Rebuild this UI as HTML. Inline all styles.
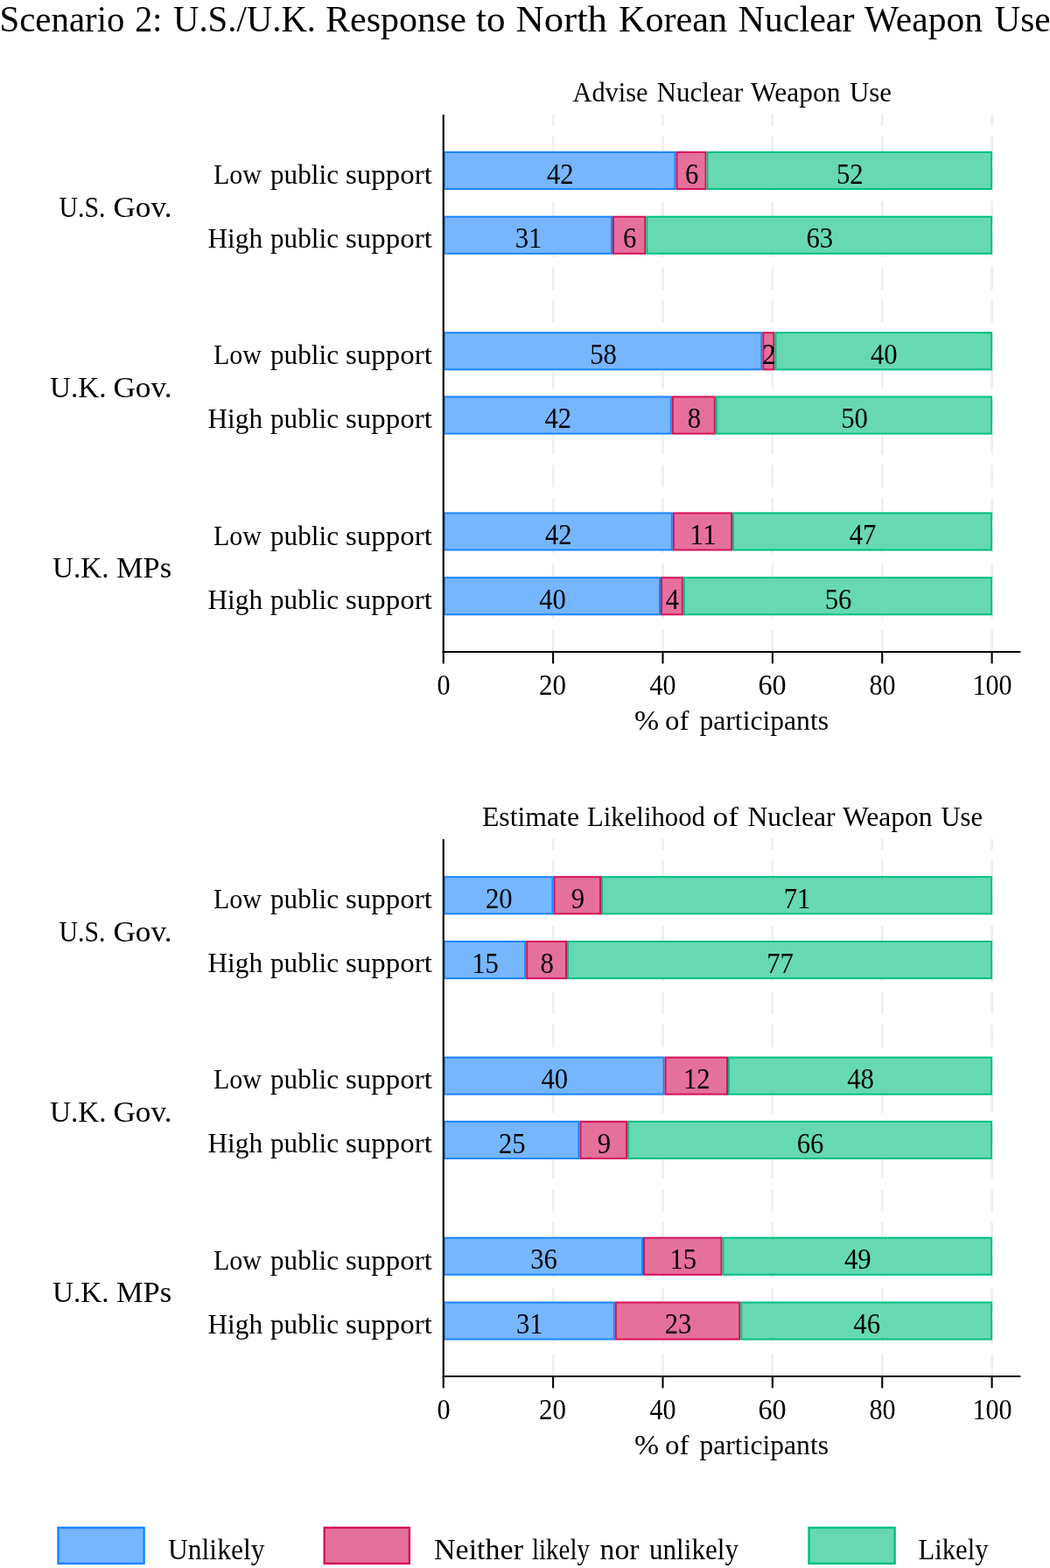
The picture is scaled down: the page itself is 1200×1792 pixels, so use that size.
<!DOCTYPE html>
<html lang="en">
<head>
<meta charset="utf-8">
<title>Scenario 2: U.S./U.K. Response to North Korean Nuclear Weapon Use</title>
<style>
html,body{margin:0;padding:0;background:#fff;}
body{width:1200px;height:1792px;overflow:hidden;}
svg{display:block;}
text{font-family:"Liberation Serif", serif;fill:#000;}
.grid{stroke:#efefef;stroke-width:2.8;stroke-dasharray:25.6 12.03;}
.ax{stroke:#000;stroke-width:2.1;}
.b{fill:#76b6ff;stroke:#1a85ff;stroke-width:2;}
.p{fill:#e5709b;stroke:#d41159;stroke-width:2;}
.g{fill:#66d9b2;stroke:#00bf7f;stroke-width:2;}
.lg{stroke-width:2.4;}
</style>
</head>
<body>
<svg width="1200" height="1792" viewBox="0 0 1200 1792">
<rect x="0" y="0" width="1200" height="1792" fill="#ffffff"/>
<g id="chart-advise">
<line class="grid" x1="632.12" y1="745.0" x2="632.12" y2="130.5"/>
<line class="grid" x1="757.49" y1="745.0" x2="757.49" y2="130.5"/>
<line class="grid" x1="882.86" y1="745.0" x2="882.86" y2="130.5"/>
<line class="grid" x1="1008.23" y1="745.0" x2="1008.23" y2="130.5"/>
<line class="grid" x1="1133.60" y1="745.0" x2="1133.60" y2="130.5"/>
<rect class="b" x="507.75" y="173.90" width="263.75" height="42.10"/>
<rect class="p" x="773.50" y="173.90" width="33.00" height="42.10"/>
<rect class="g" x="808.50" y="173.90" width="324.60" height="42.10"/>
<rect class="b" x="507.75" y="247.70" width="191.25" height="42.10"/>
<rect class="p" x="701.00" y="247.70" width="36.30" height="42.10"/>
<rect class="g" x="739.30" y="247.70" width="393.80" height="42.10"/>
<rect class="b" x="507.75" y="380.20" width="362.55" height="42.10"/>
<rect class="p" x="872.30" y="380.20" width="12.00" height="42.10"/>
<rect class="g" x="886.30" y="380.20" width="246.80" height="42.10"/>
<rect class="b" x="507.75" y="453.50" width="259.05" height="42.10"/>
<rect class="p" x="768.80" y="453.50" width="48.00" height="42.10"/>
<rect class="g" x="818.80" y="453.50" width="314.30" height="42.10"/>
<rect class="b" x="507.75" y="586.40" width="260.05" height="42.10"/>
<rect class="p" x="769.80" y="586.40" width="66.20" height="42.10"/>
<rect class="g" x="838.00" y="586.40" width="295.10" height="42.10"/>
<rect class="b" x="507.75" y="660.20" width="246.25" height="42.10"/>
<rect class="p" x="756.00" y="660.20" width="23.80" height="42.10"/>
<rect class="g" x="781.80" y="660.20" width="351.30" height="42.10"/>
<line x1="506.75" y1="131.0" x2="506.75" y2="746.0" class="ax"/>
<line x1="505.70" y1="745.0" x2="1166.4" y2="745.0" class="ax"/>
<line x1="506.75" y1="745.0" x2="506.75" y2="758.4" class="ax"/>
<line x1="632.12" y1="745.0" x2="632.12" y2="758.4" class="ax"/>
<line x1="757.49" y1="745.0" x2="757.49" y2="758.4" class="ax"/>
<line x1="882.86" y1="745.0" x2="882.86" y2="758.4" class="ax"/>
<line x1="1008.23" y1="745.0" x2="1008.23" y2="758.4" class="ax"/>
<line x1="1133.60" y1="745.0" x2="1133.60" y2="758.4" class="ax"/>
</g>
<g id="chart-estimate">
<line class="grid" x1="632.12" y1="1573.0" x2="632.12" y2="958.5"/>
<line class="grid" x1="757.49" y1="1573.0" x2="757.49" y2="958.5"/>
<line class="grid" x1="882.86" y1="1573.0" x2="882.86" y2="958.5"/>
<line class="grid" x1="1008.23" y1="1573.0" x2="1008.23" y2="958.5"/>
<line class="grid" x1="1133.60" y1="1573.0" x2="1133.60" y2="958.5"/>
<rect class="b" x="507.75" y="1002.20" width="123.75" height="42.10"/>
<rect class="p" x="633.50" y="1002.20" width="52.50" height="42.10"/>
<rect class="g" x="688.00" y="1002.20" width="445.10" height="42.10"/>
<rect class="b" x="507.75" y="1076.00" width="92.45" height="42.10"/>
<rect class="p" x="602.20" y="1076.00" width="44.80" height="42.10"/>
<rect class="g" x="649.00" y="1076.00" width="484.10" height="42.10"/>
<rect class="b" x="507.75" y="1208.50" width="250.75" height="42.10"/>
<rect class="p" x="760.50" y="1208.50" width="70.50" height="42.10"/>
<rect class="g" x="833.00" y="1208.50" width="300.10" height="42.10"/>
<rect class="b" x="507.75" y="1281.80" width="153.75" height="42.10"/>
<rect class="p" x="663.50" y="1281.80" width="52.50" height="42.10"/>
<rect class="g" x="718.00" y="1281.80" width="415.10" height="42.10"/>
<rect class="b" x="507.75" y="1414.70" width="226.25" height="42.10"/>
<rect class="p" x="736.00" y="1414.70" width="88.50" height="42.10"/>
<rect class="g" x="826.50" y="1414.70" width="306.60" height="42.10"/>
<rect class="b" x="507.75" y="1488.50" width="194.05" height="42.10"/>
<rect class="p" x="703.80" y="1488.50" width="141.40" height="42.10"/>
<rect class="g" x="847.20" y="1488.50" width="285.90" height="42.10"/>
<line x1="506.75" y1="959.0" x2="506.75" y2="1574.0" class="ax"/>
<line x1="505.70" y1="1573.0" x2="1166.4" y2="1573.0" class="ax"/>
<line x1="506.75" y1="1573.0" x2="506.75" y2="1586.4" class="ax"/>
<line x1="632.12" y1="1573.0" x2="632.12" y2="1586.4" class="ax"/>
<line x1="757.49" y1="1573.0" x2="757.49" y2="1586.4" class="ax"/>
<line x1="882.86" y1="1573.0" x2="882.86" y2="1586.4" class="ax"/>
<line x1="1008.23" y1="1573.0" x2="1008.23" y2="1586.4" class="ax"/>
<line x1="1133.60" y1="1573.0" x2="1133.60" y2="1586.4" class="ax"/>
</g>
<g id="legend">
<rect x="66.50" y="1745.9" width="98.10" height="41" class="b lg"/>
<rect x="370.70" y="1745.9" width="97.20" height="41" class="p lg"/>
<rect x="924.50" y="1745.9" width="98.10" height="41" class="g lg"/>
</g>
<g id="labels">
<text y="35.6" font-size="42"><tspan x="-0.56" textLength="143.09" lengthAdjust="spacingAndGlyphs">Scenario</tspan> <tspan x="154.32" textLength="31.10" lengthAdjust="spacingAndGlyphs">2:</tspan> <tspan x="198.00" textLength="163.04" lengthAdjust="spacingAndGlyphs">U.S./U.K.</tspan> <tspan x="371.99" textLength="161.03" lengthAdjust="spacingAndGlyphs">Response</tspan> <tspan x="543.98" textLength="33.56" lengthAdjust="spacingAndGlyphs">to</tspan> <tspan x="589.50" textLength="104.51" lengthAdjust="spacingAndGlyphs">North</tspan> <tspan x="706.99" textLength="124.01" lengthAdjust="spacingAndGlyphs">Korean</tspan> <tspan x="843.50" textLength="133.00" lengthAdjust="spacingAndGlyphs">Nuclear</tspan> <tspan x="988.00" textLength="135.00" lengthAdjust="spacingAndGlyphs">Weapon</tspan> <tspan x="1136.49" textLength="64.03" lengthAdjust="spacingAndGlyphs">Use</tspan></text>
<text y="116.2" font-size="31"><tspan x="654.50" textLength="86.00" lengthAdjust="spacingAndGlyphs">Advise</tspan> <tspan x="750.50" textLength="98.50" lengthAdjust="spacingAndGlyphs">Nuclear</tspan> <tspan x="858.00" textLength="102.50" lengthAdjust="spacingAndGlyphs">Weapon</tspan> <tspan x="970.97" textLength="48.07" lengthAdjust="spacingAndGlyphs">Use</tspan></text>
<text y="944.4" font-size="31"><tspan x="550.99" textLength="111.01" lengthAdjust="spacingAndGlyphs">Estimate</tspan> <tspan x="671.00" textLength="135.00" lengthAdjust="spacingAndGlyphs">Likelihood</tspan> <tspan x="814.50" textLength="29.52" lengthAdjust="spacingAndGlyphs">of</tspan> <tspan x="854.50" textLength="100.02" lengthAdjust="spacingAndGlyphs">Nuclear</tspan> <tspan x="963.00" textLength="102.50" lengthAdjust="spacingAndGlyphs">Weapon</tspan> <tspan x="1075.50" textLength="47.51" lengthAdjust="spacingAndGlyphs">Use</tspan></text>
<text y="834.3" font-size="31.5"><tspan x="724.96" textLength="28.09" lengthAdjust="spacingAndGlyphs">%</tspan> <tspan x="760.00" textLength="27.51" lengthAdjust="spacingAndGlyphs">of</tspan> <tspan x="799.50" textLength="147.50" lengthAdjust="spacingAndGlyphs">participants</tspan></text>
<text y="1662.3" font-size="31.5"><tspan x="724.96" textLength="28.09" lengthAdjust="spacingAndGlyphs">%</tspan> <tspan x="760.00" textLength="27.51" lengthAdjust="spacingAndGlyphs">of</tspan> <tspan x="799.50" textLength="147.50" lengthAdjust="spacingAndGlyphs">participants</tspan></text>
<text y="1781.5" font-size="33.5"><tspan x="192.00" textLength="110.51" lengthAdjust="spacingAndGlyphs">Unlikely</tspan></text>
<text y="1781.5" font-size="33.5"><tspan x="496.00" textLength="102.00" lengthAdjust="spacingAndGlyphs">Neither</tspan> <tspan x="608.00" textLength="66.00" lengthAdjust="spacingAndGlyphs">likely</tspan> <tspan x="685.50" textLength="45.00" lengthAdjust="spacingAndGlyphs">nor</tspan> <tspan x="741.99" textLength="102.02" lengthAdjust="spacingAndGlyphs">unlikely</tspan></text>
<text y="1781.5" font-size="33.5"><tspan x="1049.51" textLength="80.00" lengthAdjust="spacingAndGlyphs">Likely</tspan></text>
<text y="247.5" font-size="33"><tspan x="67.49" textLength="53.04" lengthAdjust="spacingAndGlyphs">U.S.</tspan> <tspan x="129.46" textLength="67.12" lengthAdjust="spacingAndGlyphs">Gov.</tspan></text>
<text y="453.7" font-size="33"><tspan x="56.99" textLength="64.57" lengthAdjust="spacingAndGlyphs">U.K.</tspan> <tspan x="129.46" textLength="67.12" lengthAdjust="spacingAndGlyphs">Gov.</tspan></text>
<text y="660.0" font-size="33"><tspan x="60.00" textLength="64.57" lengthAdjust="spacingAndGlyphs">U.K.</tspan> <tspan x="133.00" textLength="63.02" lengthAdjust="spacingAndGlyphs">MPs</tspan></text>
<text y="1075.5" font-size="33"><tspan x="67.49" textLength="53.04" lengthAdjust="spacingAndGlyphs">U.S.</tspan> <tspan x="129.46" textLength="67.12" lengthAdjust="spacingAndGlyphs">Gov.</tspan></text>
<text y="1281.7" font-size="33"><tspan x="56.99" textLength="64.57" lengthAdjust="spacingAndGlyphs">U.K.</tspan> <tspan x="129.46" textLength="67.12" lengthAdjust="spacingAndGlyphs">Gov.</tspan></text>
<text y="1488.0" font-size="33"><tspan x="60.00" textLength="64.57" lengthAdjust="spacingAndGlyphs">U.K.</tspan> <tspan x="133.00" textLength="63.02" lengthAdjust="spacingAndGlyphs">MPs</tspan></text>
<text y="210.1" font-size="31.5"><tspan x="244.00" textLength="55.02" lengthAdjust="spacingAndGlyphs">Low</tspan> <tspan x="309.00" textLength="78.01" lengthAdjust="spacingAndGlyphs">public</tspan> <tspan x="395.00" textLength="99.00" lengthAdjust="spacingAndGlyphs">support</tspan></text>
<text y="283.3" font-size="31.5"><tspan x="237.49" textLength="62.53" lengthAdjust="spacingAndGlyphs">High</tspan> <tspan x="309.00" textLength="78.01" lengthAdjust="spacingAndGlyphs">public</tspan> <tspan x="395.00" textLength="99.00" lengthAdjust="spacingAndGlyphs">support</tspan></text>
<text y="416.4" font-size="31.5"><tspan x="244.00" textLength="55.02" lengthAdjust="spacingAndGlyphs">Low</tspan> <tspan x="309.00" textLength="78.01" lengthAdjust="spacingAndGlyphs">public</tspan> <tspan x="395.00" textLength="99.00" lengthAdjust="spacingAndGlyphs">support</tspan></text>
<text y="489.1" font-size="31.5"><tspan x="237.49" textLength="62.53" lengthAdjust="spacingAndGlyphs">High</tspan> <tspan x="309.00" textLength="78.01" lengthAdjust="spacingAndGlyphs">public</tspan> <tspan x="395.00" textLength="99.00" lengthAdjust="spacingAndGlyphs">support</tspan></text>
<text y="622.6" font-size="31.5"><tspan x="244.00" textLength="55.02" lengthAdjust="spacingAndGlyphs">Low</tspan> <tspan x="309.00" textLength="78.01" lengthAdjust="spacingAndGlyphs">public</tspan> <tspan x="395.00" textLength="99.00" lengthAdjust="spacingAndGlyphs">support</tspan></text>
<text y="695.8" font-size="31.5"><tspan x="237.49" textLength="62.53" lengthAdjust="spacingAndGlyphs">High</tspan> <tspan x="309.00" textLength="78.01" lengthAdjust="spacingAndGlyphs">public</tspan> <tspan x="395.00" textLength="99.00" lengthAdjust="spacingAndGlyphs">support</tspan></text>
<text y="1038.1" font-size="31.5"><tspan x="244.00" textLength="55.02" lengthAdjust="spacingAndGlyphs">Low</tspan> <tspan x="309.00" textLength="78.01" lengthAdjust="spacingAndGlyphs">public</tspan> <tspan x="395.00" textLength="99.00" lengthAdjust="spacingAndGlyphs">support</tspan></text>
<text y="1111.3" font-size="31.5"><tspan x="237.49" textLength="62.53" lengthAdjust="spacingAndGlyphs">High</tspan> <tspan x="309.00" textLength="78.01" lengthAdjust="spacingAndGlyphs">public</tspan> <tspan x="395.00" textLength="99.00" lengthAdjust="spacingAndGlyphs">support</tspan></text>
<text y="1244.4" font-size="31.5"><tspan x="244.00" textLength="55.02" lengthAdjust="spacingAndGlyphs">Low</tspan> <tspan x="309.00" textLength="78.01" lengthAdjust="spacingAndGlyphs">public</tspan> <tspan x="395.00" textLength="99.00" lengthAdjust="spacingAndGlyphs">support</tspan></text>
<text y="1317.1" font-size="31.5"><tspan x="237.49" textLength="62.53" lengthAdjust="spacingAndGlyphs">High</tspan> <tspan x="309.00" textLength="78.01" lengthAdjust="spacingAndGlyphs">public</tspan> <tspan x="395.00" textLength="99.00" lengthAdjust="spacingAndGlyphs">support</tspan></text>
<text y="1450.6" font-size="31.5"><tspan x="244.00" textLength="55.02" lengthAdjust="spacingAndGlyphs">Low</tspan> <tspan x="309.00" textLength="78.01" lengthAdjust="spacingAndGlyphs">public</tspan> <tspan x="395.00" textLength="99.00" lengthAdjust="spacingAndGlyphs">support</tspan></text>
<text y="1523.8" font-size="31.5"><tspan x="237.49" textLength="62.53" lengthAdjust="spacingAndGlyphs">High</tspan> <tspan x="309.00" textLength="78.01" lengthAdjust="spacingAndGlyphs">public</tspan> <tspan x="395.00" textLength="99.00" lengthAdjust="spacingAndGlyphs">support</tspan></text>
<text y="794.2" font-size="33"><tspan x="499.49" textLength="15.05" lengthAdjust="spacingAndGlyphs">0</tspan></text>
<text y="794.2" font-size="33"><tspan x="615.96" textLength="31.08" lengthAdjust="spacingAndGlyphs">20</tspan></text>
<text y="794.2" font-size="33"><tspan x="742.48" textLength="30.02" lengthAdjust="spacingAndGlyphs">40</tspan></text>
<text y="794.2" font-size="33"><tspan x="866.40" textLength="32.15" lengthAdjust="spacingAndGlyphs">60</tspan></text>
<text y="794.2" font-size="33"><tspan x="993.49" textLength="30.04" lengthAdjust="spacingAndGlyphs">80</tspan></text>
<text y="794.2" font-size="33"><tspan x="1111.38" textLength="45.15" lengthAdjust="spacingAndGlyphs">100</tspan></text>
<text y="1622.2" font-size="33"><tspan x="499.49" textLength="15.05" lengthAdjust="spacingAndGlyphs">0</tspan></text>
<text y="1622.2" font-size="33"><tspan x="615.96" textLength="31.08" lengthAdjust="spacingAndGlyphs">20</tspan></text>
<text y="1622.2" font-size="33"><tspan x="742.48" textLength="30.02" lengthAdjust="spacingAndGlyphs">40</tspan></text>
<text y="1622.2" font-size="33"><tspan x="866.40" textLength="32.15" lengthAdjust="spacingAndGlyphs">60</tspan></text>
<text y="1622.2" font-size="33"><tspan x="993.49" textLength="30.04" lengthAdjust="spacingAndGlyphs">80</tspan></text>
<text y="1622.2" font-size="33"><tspan x="1111.38" textLength="45.15" lengthAdjust="spacingAndGlyphs">100</tspan></text>
</g>
<g id="bar-values">
<text x="624.88" y="209.6" font-size="33" textLength="30.69" lengthAdjust="spacingAndGlyphs">42</text>
<text x="782.93" y="209.6" font-size="33" textLength="15.35" lengthAdjust="spacingAndGlyphs">6</text>
<text x="956.00" y="209.6" font-size="33" textLength="30.69" lengthAdjust="spacingAndGlyphs">52</text>
<text x="588.63" y="283.4" font-size="33" textLength="30.69" lengthAdjust="spacingAndGlyphs">31</text>
<text x="712.08" y="283.4" font-size="33" textLength="15.35" lengthAdjust="spacingAndGlyphs">6</text>
<text x="921.40" y="283.4" font-size="33" textLength="30.69" lengthAdjust="spacingAndGlyphs">63</text>
<text x="674.28" y="415.9" font-size="33" textLength="30.69" lengthAdjust="spacingAndGlyphs">58</text>
<text x="871.23" y="415.9" font-size="33" textLength="15.35" lengthAdjust="spacingAndGlyphs">2</text>
<text x="994.90" y="415.9" font-size="33" textLength="30.69" lengthAdjust="spacingAndGlyphs">40</text>
<text x="622.53" y="489.2" font-size="33" textLength="30.69" lengthAdjust="spacingAndGlyphs">42</text>
<text x="785.73" y="489.2" font-size="33" textLength="15.35" lengthAdjust="spacingAndGlyphs">8</text>
<text x="961.15" y="489.2" font-size="33" textLength="30.69" lengthAdjust="spacingAndGlyphs">50</text>
<text x="623.03" y="622.1" font-size="33" textLength="30.69" lengthAdjust="spacingAndGlyphs">42</text>
<text x="788.15" y="622.1" font-size="33" textLength="30.69" lengthAdjust="spacingAndGlyphs">11</text>
<text x="970.75" y="622.1" font-size="33" textLength="30.69" lengthAdjust="spacingAndGlyphs">47</text>
<text x="616.13" y="695.9" font-size="33" textLength="30.69" lengthAdjust="spacingAndGlyphs">40</text>
<text x="760.83" y="695.9" font-size="33" textLength="15.35" lengthAdjust="spacingAndGlyphs">4</text>
<text x="942.65" y="695.9" font-size="33" textLength="30.69" lengthAdjust="spacingAndGlyphs">56</text>
<text x="554.88" y="1037.9" font-size="33" textLength="30.69" lengthAdjust="spacingAndGlyphs">20</text>
<text x="652.68" y="1037.9" font-size="33" textLength="15.35" lengthAdjust="spacingAndGlyphs">9</text>
<text x="895.75" y="1037.9" font-size="33" textLength="30.69" lengthAdjust="spacingAndGlyphs">71</text>
<text x="539.23" y="1111.7" font-size="33" textLength="30.69" lengthAdjust="spacingAndGlyphs">15</text>
<text x="617.53" y="1111.7" font-size="33" textLength="15.35" lengthAdjust="spacingAndGlyphs">8</text>
<text x="876.25" y="1111.7" font-size="33" textLength="30.69" lengthAdjust="spacingAndGlyphs">77</text>
<text x="618.38" y="1244.2" font-size="33" textLength="30.69" lengthAdjust="spacingAndGlyphs">40</text>
<text x="781.00" y="1244.2" font-size="33" textLength="30.69" lengthAdjust="spacingAndGlyphs">12</text>
<text x="968.25" y="1244.2" font-size="33" textLength="30.69" lengthAdjust="spacingAndGlyphs">48</text>
<text x="569.88" y="1317.5" font-size="33" textLength="30.69" lengthAdjust="spacingAndGlyphs">25</text>
<text x="682.68" y="1317.5" font-size="33" textLength="15.35" lengthAdjust="spacingAndGlyphs">9</text>
<text x="910.75" y="1317.5" font-size="33" textLength="30.69" lengthAdjust="spacingAndGlyphs">66</text>
<text x="606.13" y="1450.4" font-size="33" textLength="30.69" lengthAdjust="spacingAndGlyphs">36</text>
<text x="765.50" y="1450.4" font-size="33" textLength="30.69" lengthAdjust="spacingAndGlyphs">15</text>
<text x="965.00" y="1450.4" font-size="33" textLength="30.69" lengthAdjust="spacingAndGlyphs">49</text>
<text x="590.03" y="1524.2" font-size="33" textLength="30.69" lengthAdjust="spacingAndGlyphs">31</text>
<text x="759.75" y="1524.2" font-size="33" textLength="30.69" lengthAdjust="spacingAndGlyphs">23</text>
<text x="975.36" y="1524.2" font-size="33" textLength="30.69" lengthAdjust="spacingAndGlyphs">46</text>
</g>
</svg>
</body>
</html>
